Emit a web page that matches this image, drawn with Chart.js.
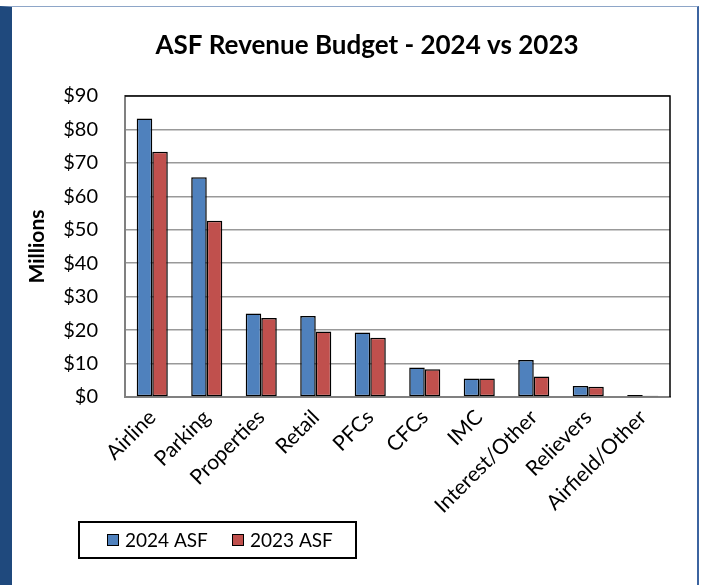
<!DOCTYPE html>
<html>
<head>
<meta charset="utf-8">
<title>ASF Revenue Budget</title>
<script src="https://cdn.jsdelivr.net/npm/chart.js@4.4.1/dist/chart.umd.min.js"></script>
<style>
  html, body { margin: 0; padding: 0; background: #fff; }
  #frame {
    position: absolute; left: 0; top: 6px; width: 699px; height: 579px;
    box-sizing: border-box;
    border-left: 12px solid #1f497d;
    border-top: 1px solid #8ea6c8;
    border-right: 2px solid #3c64a0;
  }
  #wrap { position: absolute; left: 0; top: 0; width: 707px; height: 585px; }
</style>
</head>
<body>
<div id="frame"></div>
<div id="wrap"><canvas id="chart" width="707" height="585"></canvas></div>
<script>
// Chart data (millions of dollars)
const chartTitle = 'ASF Revenue Budget - 2024 vs 2023';
const categories = ['Airline', 'Parking', 'Properties', 'Retail', 'PFCs', 'CFCs', 'IMC', 'Interest/Other', 'Relievers', 'Airfield/Other'];
const seriesNames = ['2024 ASF', '2023 ASF'];
const values2024 = [83.3, 65.7, 25.0, 24.2, 19.3, 8.8, 5.5, 11.1, 3.3, 0.6];
const values2023 = [73.3, 52.7, 23.6, 19.6, 17.7, 8.3, 5.5, 6.1, 3.1, 0.4];
const yMin = 0;
const yMax = 90;
const yStep = 10;
const yTitle = 'Millions';

const fontFamily = 'Lato, "Open Sans", sans-serif';
const blue = '#4f81bd';
const red = '#c0504d';

// Title drawn by hand so it sits where the original does
const titlePlugin = {
    id: 'asfTitle',
    afterDraw(chart) {
        const ctx = chart.ctx;
        ctx.save();
        ctx.font = 'bold 26px ' + fontFamily;
        ctx.fillStyle = '#000';
        ctx.textAlign = 'center';
        ctx.textBaseline = 'middle';
        ctx.fillText(chartTitle, 367, 46);
        ctx.restore();
    }
};

// Black top and right edges of the plot area
const plotBorderPlugin = {
    id: 'plotBorder',
    afterDraw(chart) {
        const a = chart.chartArea;
        const ctx = chart.ctx;
        ctx.save();
        ctx.strokeStyle = '#000';
        ctx.lineWidth = 1.5;
        ctx.beginPath();
        ctx.moveTo(a.left, a.top);
        ctx.lineTo(a.right, a.top);
        ctx.lineTo(a.right, a.bottom);
        ctx.stroke();
        ctx.restore();
    }
};

// Boxed legend in the lower left, like the original
const boxLegendPlugin = {
    id: 'boxLegend',
    afterDraw(chart) {
        const ctx = chart.ctx;
        ctx.save();
        ctx.strokeStyle = '#000';
        ctx.lineWidth = 2;
        ctx.strokeRect(79, 522, 277, 36);
        const itemX = [107, 232];
        ctx.font = '19px ' + fontFamily;
        ctx.textBaseline = 'middle';
        chart.data.datasets.forEach((ds, i) => {
            let x = itemX[i];
            ctx.fillStyle = ds.backgroundColor;
            ctx.fillRect(x, 534, 12, 12);
            ctx.lineWidth = 1;
            ctx.strokeRect(x + 0.5, 534.5, 11, 11);
            ctx.fillStyle = '#000';
            ctx.fillText(ds.label, x + 18, 541);
        });
        ctx.restore();
    }
};

const ctx = document.getElementById('chart').getContext('2d');
const asfChart = new Chart(ctx, {
    type: 'bar',
    data: {
        labels: categories,
        datasets: [
            {
                label: seriesNames[0],
                data: values2024,
                backgroundColor: blue,
                borderColor: '#000',
                borderWidth: 1.5,
                borderSkipped: false
            },
            {
                label: seriesNames[1],
                data: values2023,
                backgroundColor: red,
                borderColor: '#000',
                borderWidth: 1.5,
                borderSkipped: false
            }
        ]
    },
    options: {
        responsive: false,
        animation: false,
        categoryPercentage: 0.57,
        barPercentage: 1.0,
        layout: {
            padding: { top: 96, right: 37, left: 0, bottom: 0 }
        },
        plugins: {
            legend: { display: false },
            title: { display: false },
            tooltip: { enabled: false }
        },
        scales: {
            x: {
                grid: { display: false },
                border: { display: true, color: '#808080', width: 2 },
                ticks: {
                    autoSkip: false,
                    minRotation: 45,
                    maxRotation: 45,
                    padding: 0,
                    color: '#000',
                    font: { size: 21, family: fontFamily }
                },
                afterFit: (scale) => { scale.height = 188; }
            },
            y: {
                min: yMin,
                max: yMax,
                grid: {
                    color: '#999999',
                    lineWidth: 1.5,
                    drawTicks: false
                },
                border: { display: true, color: '#808080', width: 2 },
                ticks: {
                    stepSize: yStep,
                    padding: 27,
                    color: '#000',
                    font: { size: 20, family: fontFamily },
                    callback: (v) => '$' + v
                },
                title: {
                    display: true,
                    text: yTitle,
                    color: '#000',
                    font: { size: 21, weight: 'bold', family: fontFamily },
                    padding: { top: 25, bottom: 0 }
                },
                afterFit: (scale) => { scale.width = 125; }
            }
        }
    },
    plugins: [titlePlugin, plotBorderPlugin, boxLegendPlugin]
});
</script>
</body>
</html>
